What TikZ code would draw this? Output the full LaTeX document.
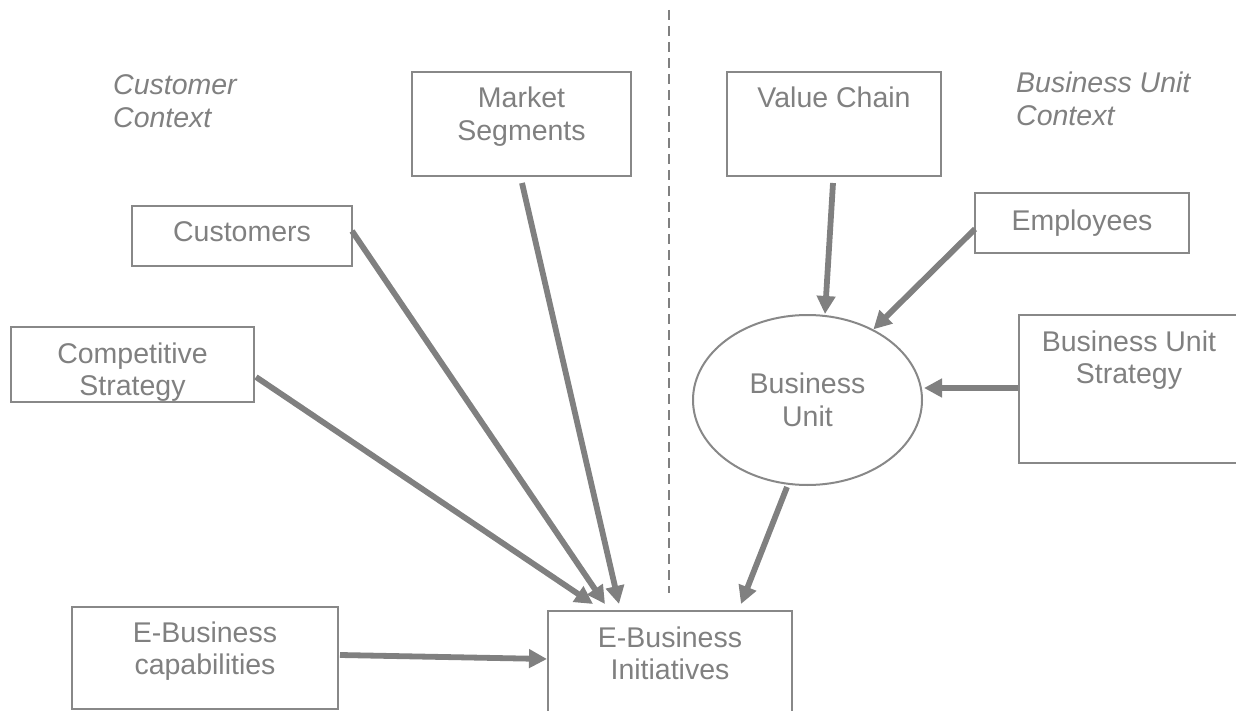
\documentclass[tikz,border=0pt]{standalone}
\usepackage{fontspec}
\setmainfont{Liberation Sans}
\usetikzlibrary{arrows.meta,shapes.geometric}

\definecolor{inkgray}{RGB}{128,128,128}
\definecolor{framegray}{RGB}{136,136,136}

% box content: width, height, baseline offset of the first line, text
\newcommand{\cellbox}[4]{%
  \parbox[c][#2pt][t]{#1pt}{\centering\rule{0pt}{#3pt}#4}}

\tikzset{
  txt/.style={font=\fontsize{28.5}{32.5}\selectfont, text=inkgray},
  rbox/.style={txt, draw=framegray, line width=2pt, inner sep=0pt, rectangle},
  oval/.style={txt, draw=framegray, line width=2pt, ellipse, inner sep=0pt,
               align=center, minimum width=229pt, minimum height=170pt},
  ctx/.style={txt, font=\fontsize{28.5}{32.5}\selectfont\itshape,
              inner sep=0pt, anchor=base west},
  flow/.style={draw=inkgray, line width=5.8pt,
               -{Triangle[length=18pt,width=18pt]}},
  divider/.style={draw=inkgray, line width=2.6pt, dash pattern=on 10pt off 6pt}
}

\begin{document}
\begin{tikzpicture}[x=1pt, y=-1pt]
  \useasboundingbox (0,0) rectangle (1236,711);

  % context captions
  \node[ctx] (custctx) at (113,95)
    {\parbox[t]{200pt}{\raggedright Customer\\Context}};
  \node[ctx] (buctx) at (1016,93)
    {\parbox[t]{220pt}{\raggedright Business Unit\\Context}};

  % boxes
  \node[rbox] (ms)  at (521.5,124) {\cellbox{219}{104}{36}{Market\\Segments}};
  \node[rbox] (vc)  at (834,124)   {\cellbox{214}{104}{36}{Value Chain}};
  \node[rbox] (cus) at (242,236)   {\cellbox{220}{60}{36}{Customers}};
  \node[rbox] (emp) at (1082,223)  {\cellbox{214}{60}{38}{Employees}};
  \node[rbox] (cs)  at (132.5,364.5) {\cellbox{243}{75}{36}{Competitive\\Strategy}};
  \node[rbox] (bus) at (1129,389)  {\cellbox{220}{148}{36}{Business Unit\\Strategy}};
  \node[rbox] (cap) at (205,658)   {\cellbox{266}{102}{35}{E-Business\\capabilities}};
  \node[rbox] (ini) at (670,666.5) {\cellbox{244}{111}{36}{E-Business\\Initiatives}};

  \node[oval] (bu) at (807.5,400) {Business\\Unit};

  % dashed divider between the two contexts
  \coordinate (divtop) at (669,10);
  \coordinate (divbot) at (669,593);
  \draw[divider] (divtop) -- (divbot);

  % influences on the initiatives
  \draw[flow] ([shift={(0.5,6)}]ms.south)  -- ([shift={(-51,-6)}]ini.north);
  \draw[flow] ([shift={(-1,-5)}]cus.east)  -- ([shift={(-65,-6)}]ini.north);
  \draw[flow] ([shift={(1,12.5)}]cs.east)  -- ([shift={(-77,-6)}]ini.north);
  \draw[flow] ([shift={(1,-3)}]cap.east)   -- ([shift={(0,-7.5)}]ini.west);
  \draw[flow] ([shift={(-20.5,1)}]bu.south) -- ([shift={(71,-6)}]ini.north);

  % influences on the business unit
  \draw[flow] ([shift={(-1,6)}]vc.south)   -- ([shift={(17.5,0)}]bu.north);
  \draw[flow] ([shift={(1,6)}]emp.west)    -- (bu.47);
  \draw[flow] ([shift={(0,-1)}]bus.west)   -- ([shift={(1,-12)}]bu.east);
\end{tikzpicture}
\end{document}
